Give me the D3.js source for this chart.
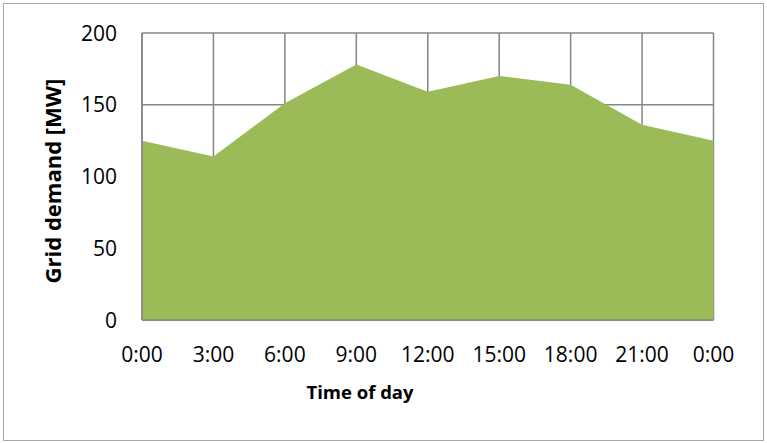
<!DOCTYPE html>
<html><head><meta charset="utf-8">
<script src="https://cdn.jsdelivr.net/npm/d3@7"></script>
<style>body{margin:0;background:#fff}svg{display:block}text{font-family:"Open Sans",sans-serif;fill:#000}</style>
</head><body><svg id="c" width="767" height="443"></svg>
<script>
const categories = ["0:00","3:00","6:00","9:00","12:00","15:00","18:00","21:00","0:00"];
const demand = [125,114,151,178,159,170,164,136,125];
const yTicks = [0,50,100,150,200];

const svg = d3.select("#c");
const m = {l:142, r:713.5, t:33, b:320};
svg.append("rect").attr("x",3.5).attr("y",3.5).attr("width",760).attr("height",437)
  .attr("fill","#fff").attr("stroke","#a6a6a6").attr("stroke-width",1);

const x = d3.scaleLinear().domain([0,categories.length-1]).range([m.l,m.r]);
const y = d3.scaleLinear().domain([0,200]).range([m.b,m.t]);
const idx = d3.range(categories.length);

const g = svg.append("g");
g.selectAll(".hg").data(yTicks).join("line")
  .attr("x1",m.l).attr("x2",m.r).attr("y1",d=>y(d)).attr("y2",d=>y(d))
  .attr("stroke","#868686").attr("stroke-width",1.5);
g.selectAll(".vg").data(idx).join("line")
  .attr("x1",d=>x(d)).attr("x2",d=>x(d)).attr("y1",m.t).attr("y2",m.b)
  .attr("stroke","#868686").attr("stroke-width",1.5);

const area = d3.area().x((d,i)=>x(i)).y0(y(0)).y1(d=>y(d));
g.append("path").datum(demand).attr("d",area).attr("fill","#9BBB59");

g.append("line").attr("x1",m.l).attr("x2",m.l).attr("y1",m.t).attr("y2",m.b).attr("stroke","#868686").attr("stroke-width",1.5);
g.append("line").attr("x1",m.l).attr("x2",m.r).attr("y1",m.b).attr("y2",m.b).attr("stroke","#868686").attr("stroke-width",1.5);

g.selectAll(".yl").data(yTicks).join("text")
  .attr("x",117).attr("y",d=>y(d)).attr("dy","0.36em").attr("text-anchor","end")
  .attr("font-size",21).text(d=>d);
g.selectAll(".xl").data(categories).join("text")
  .attr("x",(d,i)=>x(i)).attr("y",362).attr("text-anchor","middle")
  .attr("font-size",21).text(d=>d);

svg.append("text").attr("x",360).attr("y",399).attr("text-anchor","middle")
  .attr("font-size",18.5).attr("font-weight","bold").text("Time of day");
svg.append("text").attr("transform","translate(61,181) rotate(-90)").attr("text-anchor","middle")
  .attr("font-size",22).attr("font-weight","bold").text("Grid demand [MW]");
</script></body></html>
